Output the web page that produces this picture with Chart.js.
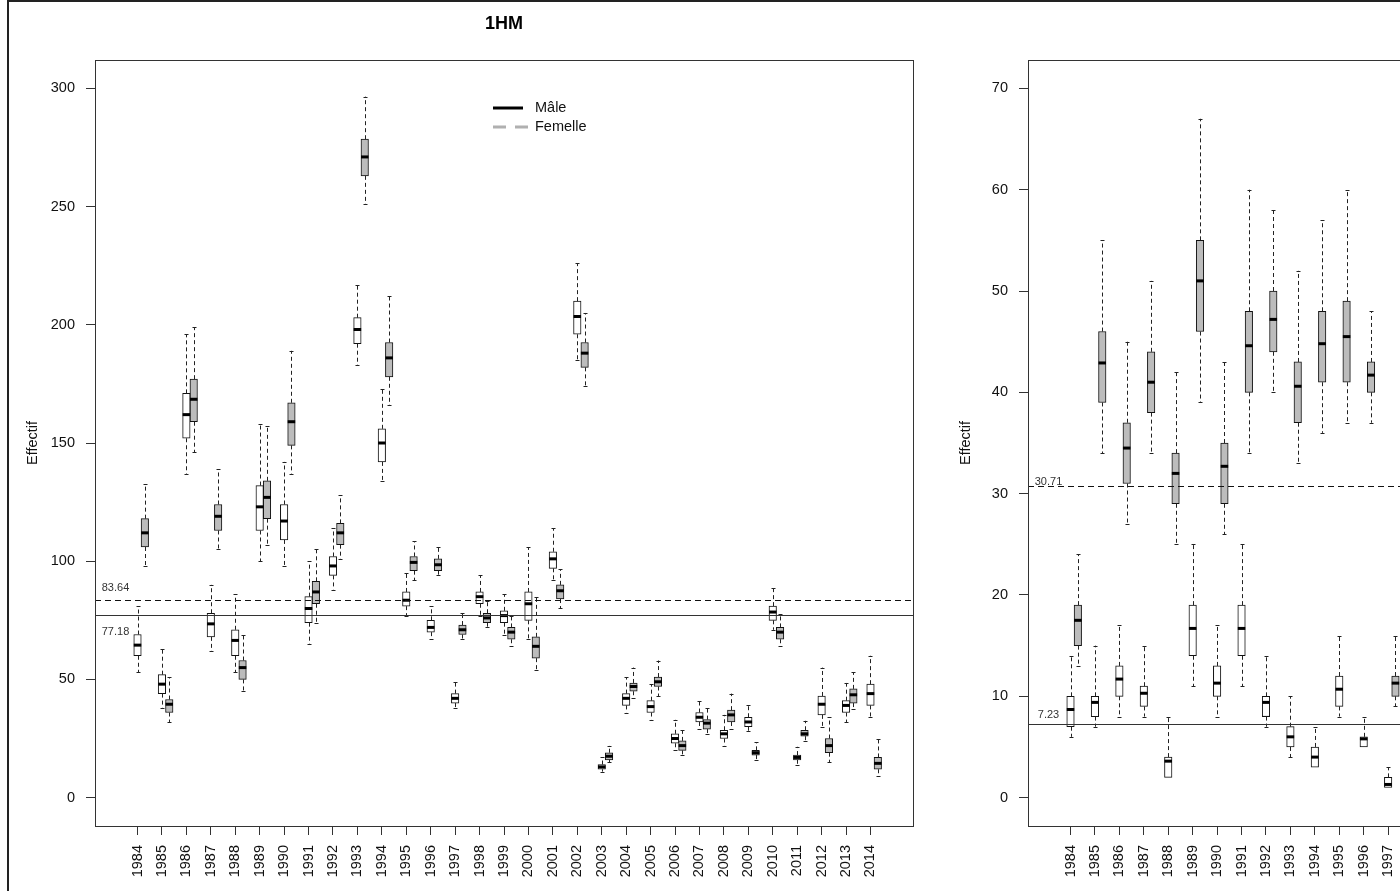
<!DOCTYPE html>
<html>
<head>
<meta charset="utf-8">
<script src="https://cdn.jsdelivr.net/npm/chart.js@4.4.1/dist/chart.umd.min.js"></script>
<style>
  html, body { margin: 0; padding: 0; background: #fff; }
  #page { position: relative; width: 1400px; height: 891px; overflow: hidden; background: #fff; }
  #page canvas { position: absolute; top: 0; }
  #left { left: 0; }
  #right { left: 933px; }
  #frame { position: absolute; left: 7px; top: 0; width: 1500px; height: 1000px;
           border-left: 2px solid #222; border-top: 2px solid #222; pointer-events: none; }
</style>
</head>
<body>
<div id="page">
  <canvas id="left" width="933" height="891"></canvas>
  <canvas id="right" width="933" height="891"></canvas>
  <div id="frame"></div>
</div>
<script>
// --- data --------------------------------------------------------------
const years = [1984, 1985, 1986, 1987, 1988, 1989, 1990, 1991, 1992, 1993, 1994,
               1995, 1996, 1997, 1998, 1999, 2000, 2001, 2002, 2003, 2004, 2005,
               2006, 2007, 2008, 2009, 2010, 2011, 2012, 2013, 2014];

// each entry: [min, q1, median, q3, max]
const maleLeft = [
    [53, 60, 64.5, 69, 81], [38, 44, 48, 52, 63], [137, 152, 162, 171, 196],
    [62, 68, 73.5, 78, 90], [53, 60, 66.5, 71, 86], [100, 113, 123, 132, 158],
    [98, 109, 117, 124, 142], [65, 74, 80, 85, 100], [88, 94, 98, 102, 114],
    [183, 192, 198, 203, 217], [134, 142, 150, 156, 173], [77, 81, 83.5, 87, 95],
    [67, 70, 72, 75, 81], [38, 40, 42, 44, 49], [77, 82, 85, 87, 94],
    [69, 74, 77, 79, 86], [67, 75, 82, 87, 106], [92, 97, 101, 104, 114],
    [185, 196, 203.5, 210, 226], [11, 12, 13, 14, 17], [36, 39, 42, 44, 51],
    [33, 36, 38.5, 41, 48], [20, 23, 25, 27, 33], [29, 32, 34, 36, 41],
    [22, 25, 27, 28.5, 35], [28, 30, 32, 34, 39], [71, 75, 78.5, 81, 88.5],
    [14, 16, 17, 18, 21.5], [30, 35, 39.5, 43, 55], [32, 36, 39, 41, 48.5],
    [34, 39, 44, 48, 60]
];
const femaleLeft = [
    [98, 106, 112, 118, 132.5], [32, 36, 39.5, 41.5, 51], [146, 159, 168.5, 177, 199],
    [105, 113, 119, 124, 139], [45, 50, 55, 58, 69], [107, 118, 127, 134, 157],
    [137, 149, 159, 167, 189], [74, 82, 87, 91.5, 105], [101, 107, 112, 116, 128],
    [251, 263, 271, 278.5, 296.5], [166, 178, 186, 192.5, 212], [92, 96, 99.5, 102, 108.5],
    [94, 96, 98.5, 101, 106], [67, 69, 71, 73, 78], [72, 74, 76, 78, 83],
    [64, 67, 70, 72, 77], [54, 59, 64, 68, 85], [80, 84, 87.5, 90, 96.5],
    [174, 182, 188, 192.5, 205], [15, 16, 17.5, 19, 22], [42, 45, 47, 48.5, 55],
    [43, 47, 49, 51, 58], [18, 20, 22, 24, 28.5], [27, 29, 31.5, 33, 38],
    [29, 32, 35, 37, 44], [16, 18, 19, 20, 23.5], [64, 67, 70, 72, 77.5],
    [24, 26, 27, 28.5, 32.5], [15, 19, 22, 25, 34], [37.5, 40, 43.5, 46, 53],
    [9, 12, 14.5, 17, 25]
];
const maleRight = [
    [6, 7, 8.7, 10, 14], [7, 8, 9.4, 10, 15], [8, 10, 11.7, 13, 17], [8, 9, 10.3, 11, 15],
    [2, 2, 3.6, 4, 8], [11, 14, 16.7, 19, 25], [8, 10, 11.3, 13, 17], [11, 14, 16.7, 19, 25],
    [7, 8, 9.4, 10, 14], [4, 5, 6, 7, 10], [3, 3, 4, 5, 7], [8, 9, 10.7, 12, 16],
    [5, 5, 5.8, 6, 8], [1, 1, 1.3, 2, 3]
];
const femaleRight = [
    [13, 15, 17.5, 19, 24], [34, 39, 42.9, 46, 55], [27, 31, 34.5, 37, 45], [34, 38, 41, 44, 51],
    [25, 29, 32, 34, 42], [39, 46, 51, 55, 67], [26, 29, 32.7, 35, 43], [34, 40, 44.6, 48, 60],
    [40, 44, 47.2, 50, 58], [33, 37, 40.6, 43, 52], [36, 41, 44.8, 48, 57], [37, 41, 45.5, 49, 60],
    [37, 40, 41.7, 43, 48], [9, 10, 11.3, 12, 16]
];

const meansLeft = [83.64, 77.18];   // femelle (dashed), mâle (solid)
const meansRight = [30.71, 7.23];
const yTicksLeft = [0, 50, 100, 150, 200, 250, 300];
const yTicksRight = [0, 10, 20, 30, 40, 50, 60, 70];
const legendLabels = ['Mâle', 'Femelle'];

// --- styles -----------------------------------------------------------
const FONT = '"Liberation Sans", Arial, sans-serif';
const BOX_FILL = ['#ffffff', '#bcbcbc'];
const BOX_W = 7.5;
const FEMALE_SHIFT = 0.3;

const BoxPanel = {
    whiskers: {
        id: 'whiskers',
        afterDatasetsDraw: (chart) => {
            const ctx = chart.ctx;
            const yScale = chart.scales.y;
            ctx.save();
            chart.data.datasets.forEach((ds, i) => {
                chart.getDatasetMeta(i).data.forEach((bar, j) => {
                    const [lo, q1, med, q3, hi] = ds.stats[j];
                    const x = Math.round(bar.x) + 0.5;
                    const half = bar.width / 2;
                    const pLo = yScale.getPixelForValue(lo);
                    const pHi = yScale.getPixelForValue(hi);

                    // dashed whiskers
                    ctx.strokeStyle = '#222';
                    ctx.lineWidth = 1;
                    ctx.setLineDash([4, 3]);
                    ctx.beginPath();
                    if (hi > q3) { ctx.moveTo(x, yScale.getPixelForValue(q3)); ctx.lineTo(x, pHi); }
                    if (lo < q1) { ctx.moveTo(x, yScale.getPixelForValue(q1)); ctx.lineTo(x, pLo); }
                    ctx.stroke();

                    // little staples
                    ctx.setLineDash([]);
                    ctx.beginPath();
                    if (hi > q3) { ctx.moveTo(x - 2, Math.round(pHi) + 0.5); ctx.lineTo(x + 2, Math.round(pHi) + 0.5); }
                    if (lo < q1) { ctx.moveTo(x - 2, Math.round(pLo) + 0.5); ctx.lineTo(x + 2, Math.round(pLo) + 0.5); }
                    ctx.stroke();

                    // median
                    const pMed = yScale.getPixelForValue(med);
                    ctx.strokeStyle = '#000';
                    ctx.lineWidth = 3;
                    ctx.beginPath();
                    ctx.moveTo(bar.x - half, pMed);
                    ctx.lineTo(bar.x + half, pMed);
                    ctx.stroke();
                });
            });
            ctx.restore();
        }
    },
    decorations: function(panel) {
        return {
            id: 'decorations',
            afterDatasetsDraw: (chart) => {
                const ctx = chart.ctx;
                const area = chart.chartArea;
                const yScale = chart.scales.y;
                ctx.save();

                // mean lines
                panel.means.forEach((m, k) => {
                    const py = Math.round(yScale.getPixelForValue(m)) + 0.5;
                    ctx.strokeStyle = k === 0 ? '#111' : '#333';
                    ctx.lineWidth = 1;
                    ctx.setLineDash(k === 0 ? [6, 4] : []);
                    ctx.beginPath();
                    ctx.moveTo(area.left, py);
                    ctx.lineTo(area.right, py);
                    ctx.stroke();

                    ctx.setLineDash([]);
                    ctx.fillStyle = '#333';
                    ctx.font = '11px ' + FONT;
                    ctx.textAlign = 'center';
                    ctx.textBaseline = 'middle';
                    ctx.fillText(m.toFixed(2), area.left + 20.5, py + panel.labelDy[k]);
                });

                // plot box
                ctx.setLineDash([]);
                ctx.strokeStyle = '#333';
                ctx.lineWidth = 1;
                ctx.strokeRect(Math.round(area.left) + 0.5, Math.round(area.top) + 0.5,
                               Math.round(area.right - area.left), Math.round(area.bottom - area.top));

                // legend
                if (panel.legend) {
                    const lx = area.left + 398;
                    const ly = area.top + 48;
                    ctx.lineWidth = 3;
                    ctx.strokeStyle = '#000';
                    ctx.beginPath();
                    ctx.moveTo(lx, ly); ctx.lineTo(lx + 30, ly);
                    ctx.stroke();
                    ctx.strokeStyle = '#b0b0b0';
                    ctx.setLineDash([13, 9]);
                    ctx.beginPath();
                    ctx.moveTo(lx, ly + 19); ctx.lineTo(lx + 35, ly + 19);
                    ctx.stroke();
                    ctx.setLineDash([]);
                    ctx.fillStyle = '#111';
                    ctx.font = '14.5px ' + FONT;
                    ctx.textAlign = 'left';
                    ctx.textBaseline = 'middle';
                    ctx.fillText(legendLabels[0], lx + 42, ly);
                    ctx.fillText(legendLabels[1], lx + 42, ly + 19);
                }

                // title
                if (panel.title) {
                    ctx.fillStyle = '#000';
                    ctx.font = 'bold 18px ' + FONT;
                    ctx.textAlign = 'center';
                    ctx.textBaseline = 'middle';
                    ctx.fillText(panel.title, (area.left + area.right) / 2, 24);
                }
                ctx.restore();
            }
        };
    },
    dataset: (stats, sex) => ({
        data: stats.map((s, i) => ({ x: years[i] + (sex === 1 ? FEMALE_SHIFT : 0), y: [s[1], s[3]] })),
        stats: stats,
        backgroundColor: BOX_FILL[sex],
        borderColor: '#111',
        borderWidth: 1,
        borderSkipped: false,
        barThickness: BOX_W,
        grouped: false
    }),
    create: (canvas, panel) => {
        const config = {
            type: 'bar',
            data: {
                datasets: [
                    BoxPanel.dataset(panel.male, 0),
                    BoxPanel.dataset(panel.female, 1)
                ]
            },
            options: {
                responsive: false,
                animation: false,
                devicePixelRatio: 1,
                layout: { padding: { top: 60, right: 20, bottom: 0, left: 0 } },
                plugins: {
                    legend: { display: false },
                    tooltip: { enabled: false }
                },
                scales: {
                    x: {
                        type: 'linear',
                        offset: false,
                        min: 1982.26,
                        max: 2015.74,
                        afterBuildTicks: (scale) => { scale.ticks = years.map(v => ({ value: v })); },
                        afterFit: (scale) => { scale.height = 65; },
                        border: { display: false },
                        grid: { offset: false, drawOnChartArea: false, tickLength: 9, color: '#333' },
                        ticks: {
                            autoSkip: false, minRotation: 90, maxRotation: 90, padding: 10,
                            color: '#111', font: { family: FONT, size: 14.5 },
                            callback: (v) => String(v)
                        }
                    },
                    y: {
                        min: panel.yMin,
                        max: panel.yMax,
                        afterBuildTicks: (scale) => { scale.ticks = panel.yTicks.map(v => ({ value: v })); },
                        afterFit: (scale) => { scale.width = 95; },
                        border: { display: false },
                        grid: { drawOnChartArea: false, tickLength: 9, color: '#333' },
                        ticks: { padding: 11, color: '#111', font: { family: FONT, size: 14.5 } },
                        title: {
                            display: true, text: 'Effectif', color: '#111',
                            font: { family: FONT, size: 14.5 }, padding: { top: 24, bottom: 0 }
                        }
                    }
                }
            },
            plugins: [BoxPanel.whiskers, BoxPanel.decorations(panel)]
        };
        return new Chart(canvas, config);
    }
};

BoxPanel.create(document.getElementById('left'), {
    male: maleLeft, female: femaleLeft, means: meansLeft, yTicks: yTicksLeft,
    yMin: -12, yMax: 312, labelDy: [-13, 16], legend: true, title: '1HM'
});
BoxPanel.create(document.getElementById('right'), {
    male: maleRight, female: femaleRight, means: meansRight, yTicks: yTicksRight,
    yMin: -2.8, yMax: 72.8, labelDy: [-5, -10], legend: false, title: null
});
</script>
</body>
</html>
